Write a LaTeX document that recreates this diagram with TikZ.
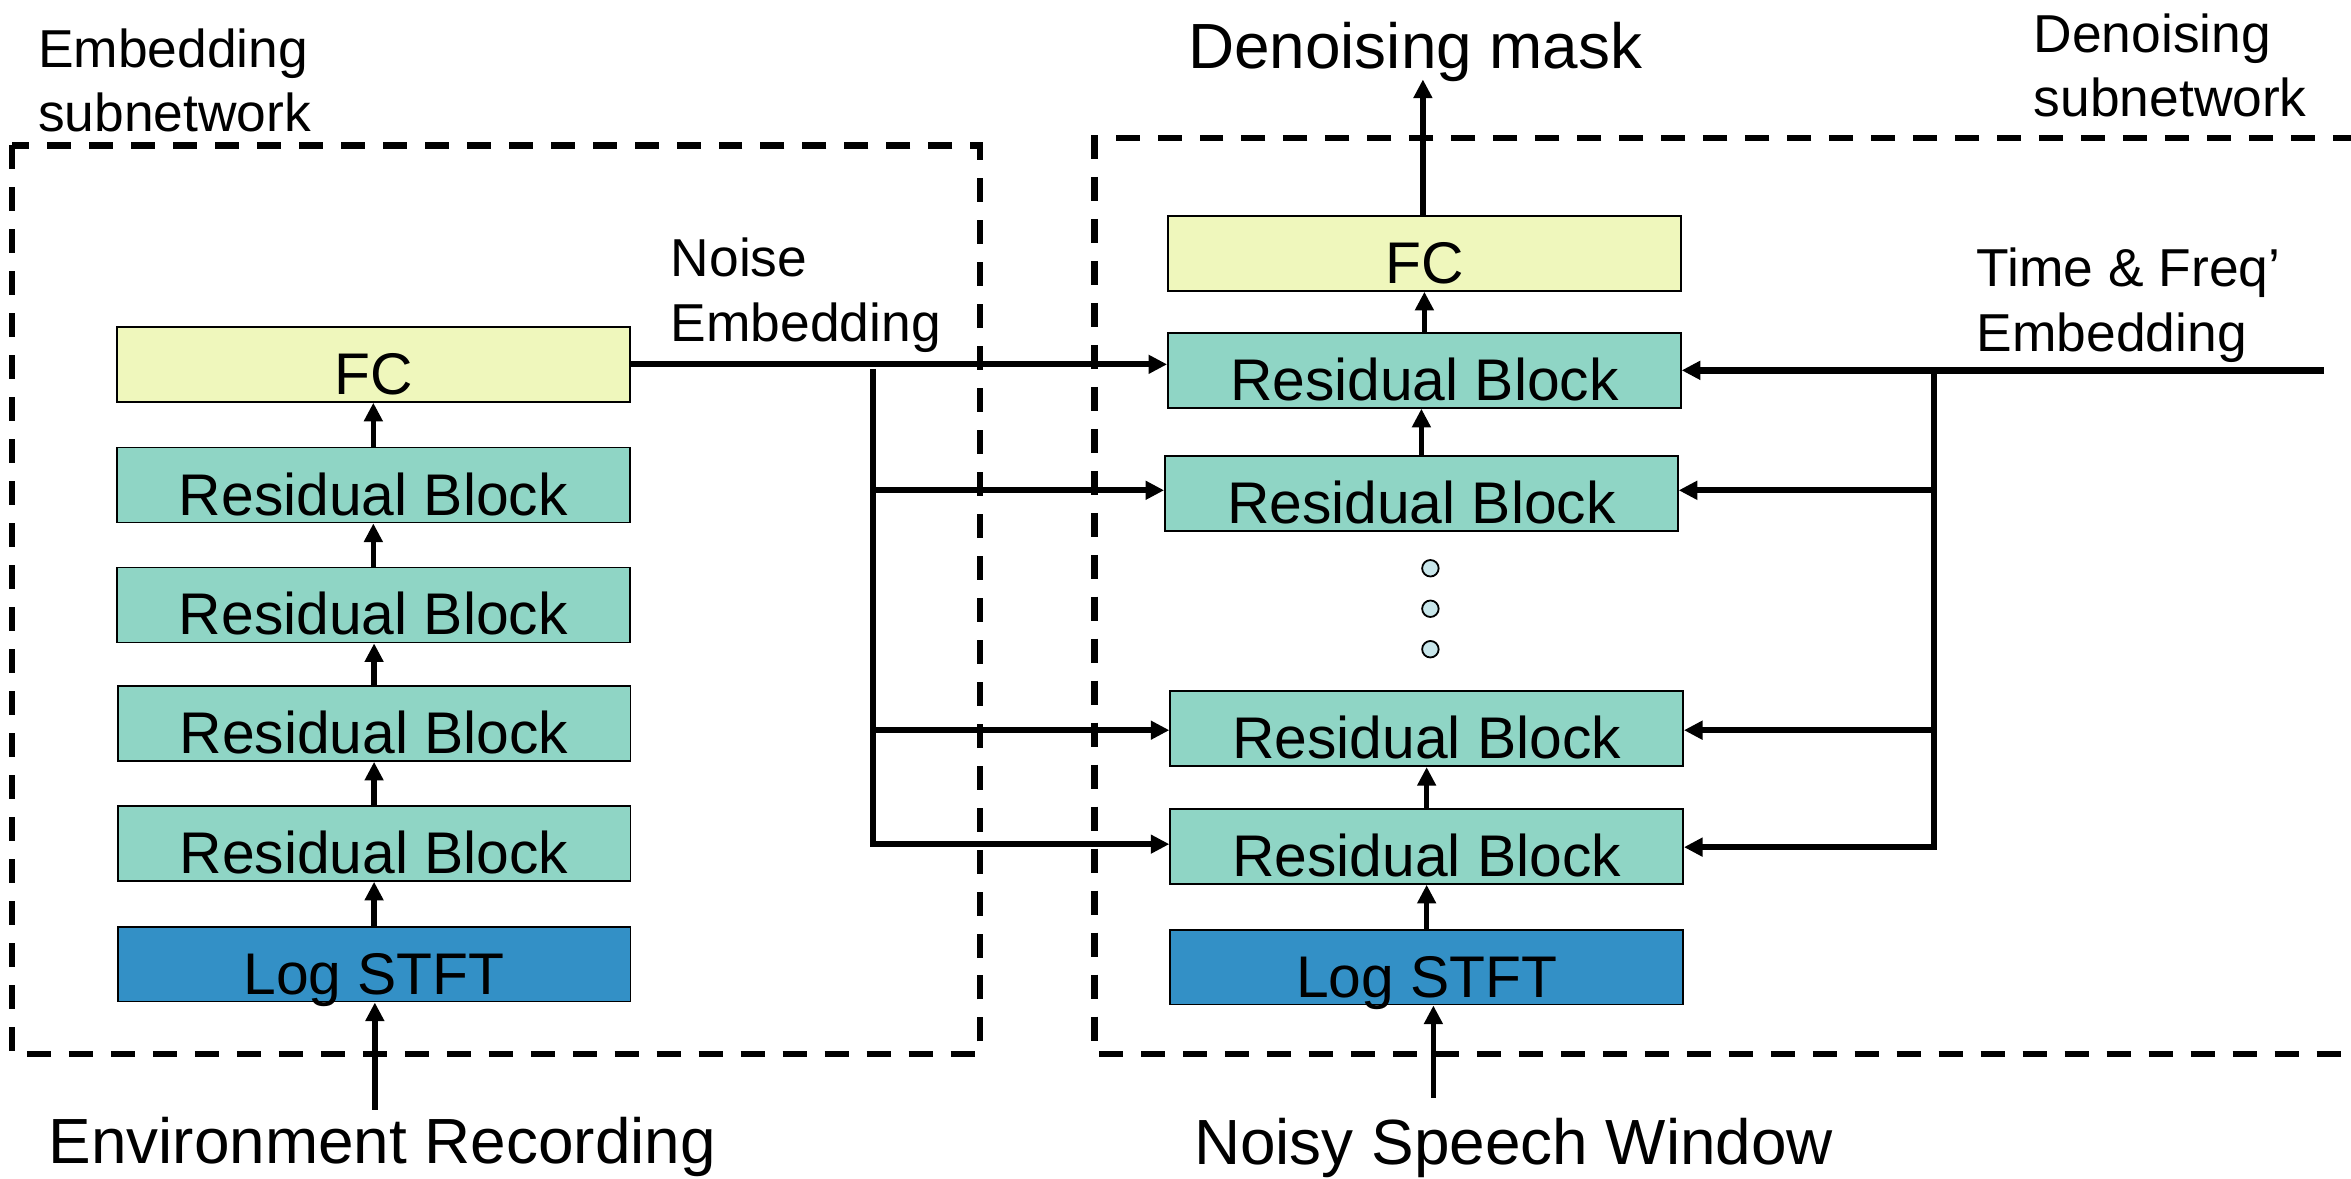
\documentclass[tikz,border=0pt]{standalone}
\usepackage{fontspec}
\setmainfont{Liberation Sans}
\usetikzlibrary{arrows.meta}
\definecolor{rbcol}{RGB}{143,213,197}
\definecolor{fccol}{RGB}{239,247,188}
\definecolor{logcol}{RGB}{51,144,198}
\definecolor{dotcol}{RGB}{200,230,234}
\begin{document}
\begin{tikzpicture}[x=0.5pt,y=-0.5pt,
  blk/.style={draw=black, line width=0.6pt, minimum width=171pt, minimum height=25pt,
    inner sep=0pt, text height=20pt, text depth=0pt, font=\fontsize{19.6}{19.6}\selectfont},
  rb/.style={blk, fill=rbcol},
  fcb/.style={blk, fill=fccol},
  logb/.style={blk, fill=logcol},
  arr/.style={line width=1.8pt, -{Triangle[length=6.2pt,width=6pt]}},
  conn/.style={line width=2pt, -{Triangle[length=6.2pt,width=6pt]}},
  dbox/.style={line width=2.2pt, dash pattern=on 8pt off 6pt},
  lbl/.style={inner sep=0pt, align=left, font=\fontsize{17.8}{21.6}\selectfont},
  big/.style={inner sep=0pt, font=\fontsize{21.3}{21.3}\selectfont},
  dotc/.style={circle, draw=black, line width=0.6pt, fill=dotcol, minimum size=5.5pt, inner sep=0pt}
]
\useasboundingbox (0,0) rectangle (1568,786);
\clip (0,0) rectangle (1568,786);

% dashed group frames
\draw[dbox] (8,97) rectangle (653.6,703);
\draw[dbox] (1600,92) -- (730,92) -- (730,703) -- (1600,703);

% left column
\node[fcb] (LFC) at (249,243) {FC};
\node[rb] (LRB1) at (249,323.5) {Residual Block};
\node[rb] (LRB2) at (249,403.5) {Residual Block};
\node[rb] (LRB3) at (249.5,482.5) {Residual Block};
\node[rb] (LRB4) at (249.5,562.5) {Residual Block};
\node[logb] (LLog) at (249.5,643) {Log STFT};

% right column
\node[fcb] (RFC) at (950,169) {FC};
\node[rb] (RRBa) at (950,247) {Residual Block};
\node[rb] (RRBb) at (948,329) {Residual Block};
\node[dotc] (d1) at (954,379) {};
\node[dotc] (d2) at (954,406) {};
\node[dotc] (d3) at (954,433) {};
\node[rb] (RRBc) at (951.5,486) {Residual Block};
\node[rb] (RRBd) at (951.5,564.5) {Residual Block};
\node[logb] (RLog) at (951.5,645) {Log STFT};

% labels
\node[lbl, anchor=north west] (embsub) at (25,18.5) {Embedding\\subnetwork};
\node[lbl, anchor=north west] (noiseemb) at (447,158.5) {Noise\\Embedding};
\node[lbl, anchor=north west] (tfemb) at (1318,165) {Time \& Freq’\\Embedding};
\node[lbl, anchor=north west] (densub) at (1356,8.5) {Denoising\\subnetwork};
\node[big, anchor=base west] (mask) at (792,45.6) {Denoising mask};
\node[big, anchor=base west] (envrec) at (32,776) {Environment Recording};
\node[big, anchor=base west] (noisy) at (796,776.5) {Noisy Speech Window};

% left stack arrows
\coordinate (envin) at (250,740);
\draw[arr] (envin) -- (envin |- LLog.south);
\draw[arr] (LLog.north) -- (LLog.north |- LRB4.south);
\draw[arr] (LRB4.north) -- (LRB4.north |- LRB3.south);
\draw[arr] (LRB3.north) -- (LRB3.north |- LRB2.south);
\draw[arr] (LRB2.north) -- (LRB2.north |- LRB1.south);
\draw[arr] (LRB1.north) -- (LRB1.north |- LFC.south);

% right stack arrows
\coordinate (noisyin) at (956,732);
\coordinate (maskout) at (949,53);
\draw[arr] (noisyin) -- (noisyin |- RLog.south);
\draw[arr] (RLog.north) -- (RLog.north |- RRBd.south);
\draw[arr] (RRBd.north) -- (RRBd.north |- RRBc.south);
\draw[arr] (RRBb.north) -- (RRBb.north |- RRBa.south);
\draw[arr] (RRBa.north) -- (RRBa.north |- RFC.south);
\draw[arr] (RFC.north -| maskout) -- (maskout);

% noise embedding connectors
\coordinate (nbtop) at (582,246);
\coordinate (nb1) at (582,327);
\coordinate (nb2) at (582,487);
\coordinate (nb3) at (582,563);
\draw[conn] (LFC.east) -- (LFC.east -| RRBa.west);
\draw[conn] (nbtop) -- (nb3) -- (nb3 -| RRBd.west);
\draw[conn] (nb1) -- (nb1 -| RRBb.west);
\draw[conn] (nb2) -- (nb2 -| RRBc.west);

% time & freq embedding connectors
\coordinate (tfend) at (1550,247);
\coordinate (tf0) at (1290,247);
\coordinate (tf1) at (1290,327);
\coordinate (tf2) at (1290,487);
\coordinate (tf3) at (1290,565);
\draw[conn, line width=2.4pt] (tfend) -- (tfend -| RRBa.east);
\draw[conn] (tf0) -- (tf3) -- (tf3 -| RRBd.east);
\draw[conn] (tf1) -- (tf1 -| RRBb.east);
\draw[conn] (tf2) -- (tf2 -| RRBc.east);
\end{tikzpicture}
\end{document}
